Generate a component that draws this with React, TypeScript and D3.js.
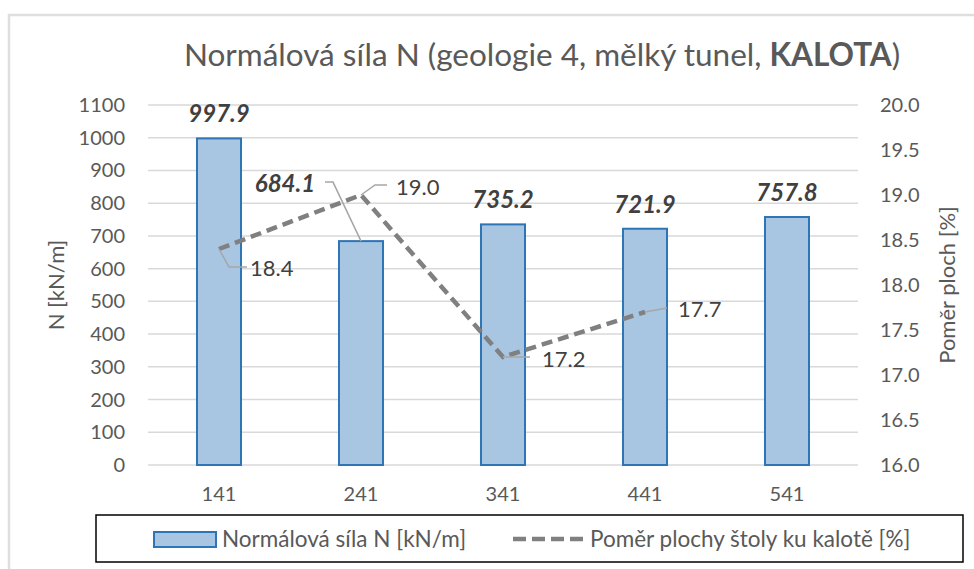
import React from "react";
import * as d3 from "d3";

const categories = ["141", "241", "341", "441", "541"];
const forceValues = [997.9, 684.1, 735.2, 721.9, 757.8];
const ratioCategories = ["141", "241", "341", "441"];
const ratioValues = [18.4, 19.0, 17.2, 17.7];
const leftTicks = [0, 100, 200, 300, 400, 500, 600, 700, 800, 900, 1000, 1100];
const rightTicks = [16.0, 16.5, 17.0, 17.5, 18.0, 18.5, 19.0, 19.5, 20.0];
const title = "Normálová síla N (geologie 4, mělký tunel, ";
const titleBold = "KALOTA";
const legendBar = "Normálová síla N [kN/m]";
const legendLine = "Poměr plochy štoly ku kalotě [%]";

const FONT = "Lato, 'Open Sans', sans-serif";

export default function App() {
  const W = 974, H = 569;
  const left = 148, right = 858, top = 105, bottom = 465;
  const x = d3.scaleBand().domain(categories).range([left, right]).paddingInner(0.69).paddingOuter(0.345);
  const yL = d3.scaleLinear().domain([0, 1100]).range([bottom, top]);
  const yR = d3.scaleLinear().domain([16, 20]).range([bottom, top]);
  const cx = (c: string) => (x(c) as number) + x.bandwidth() / 2;
  const line = d3.line<number>().x((_, i) => cx(ratioCategories[i])).y((d) => yR(d));

  const lineLabels = [
    { dx1: 10, dy1: 18, dx2: 28, dy2: 18, tx: 31, ty: 19 },
    { dx1: 14, dy1: -10, dx2: 26, dy2: -10, tx: 35, ty: -8 },
    { dx1: 5, dy1: 0, dx2: 27, dy2: 0, tx: 39, ty: 2 },
    { dx1: 0, dy1: 0, dx2: 22, dy2: -4, tx: 33, ty: -3 },
  ];

  return (
    <svg width={W} height={H} style={{ position: "absolute", left: 0, top: 0, background: "#fff" }} fontFamily={FONT}>
      <rect x={9} y={15} width={1000} height={600} fill="#fff" stroke="#dedede" strokeWidth={2.5} />
      <text x={542} y={66} textAnchor="middle" fontSize={31.5} fill="#595959">
        {title}
        <tspan fontWeight="bold">{titleBold}</tspan>)
      </text>
      {leftTicks.map((t) => (
        <g key={"g" + t}>
          <line x1={left} x2={right} y1={yL(t)} y2={yL(t)} stroke="#d9d9d9" strokeWidth={1.5} />
          <text x={125} y={yL(t)} dy="0.35em" textAnchor="end" fontSize={20} fill="#595959">{t}</text>
        </g>
      ))}
      {rightTicks.map((t) => (
        <text key={"r" + t} x={880} y={yR(t)} dy="0.35em" textAnchor="start" fontSize={20} fill="#595959">{t.toFixed(1)}</text>
      ))}
      <text transform={`translate(64,285) rotate(-90)`} textAnchor="middle" fontSize={22} fill="#595959">N [kN/m]</text>
      <text transform={`translate(955,285) rotate(-90)`} textAnchor="middle" fontSize={22} fill="#595959">Poměr ploch [%]</text>
      {categories.map((c, i) => (
        <g key={"b" + c}>
          <rect x={x(c)} y={yL(forceValues[i])} width={x.bandwidth()} height={bottom - yL(forceValues[i])} fill="#a8c5e2" stroke="#2e75b6" strokeWidth={2} />
          <text x={cx(c)} y={bottom + 36} textAnchor="middle" fontSize={20} fill="#595959">{c}</text>
        </g>
      ))}
      {categories.map((c, i) =>
        i === 1 ? (
          <g key={"bl" + c}>
            <polyline points={`${cx(c) - 36},${yL(forceValues[i]) - 59} ${cx(c) - 28},${yL(forceValues[i]) - 59} ${cx(c)},${yL(forceValues[i])}`} fill="none" stroke="#a6a6a6" strokeWidth={1.5} />
            <text x={cx(c) - 76} y={yL(forceValues[i]) - 49} textAnchor="middle" fontSize={24} fontWeight="bold" fontStyle="italic" fill="#404040">{forceValues[i].toFixed(1)}</text>
          </g>
        ) : (
          <text key={"bl" + c} x={cx(c)} y={yL(forceValues[i]) - 16} textAnchor="middle" fontSize={24} fontWeight="bold" fontStyle="italic" fill="#404040">{forceValues[i].toFixed(1)}</text>
        )
      )}
      <path d={line(ratioValues) as string} fill="none" stroke="#808080" strokeWidth={4.5} strokeDasharray="11 6" />
      {ratioValues.map((v, i) => {
        const px = cx(ratioCategories[i]);
        const py = yR(v);
        const l = lineLabels[i];
        return (
          <g key={"ll" + i}>
            <polyline points={`${px},${py} ${px + l.dx1},${py + l.dy1} ${px + l.dx2},${py + l.dy2}`} fill="none" stroke="#a6a6a6" strokeWidth={1.5} />
            <text x={px + l.tx} y={py + l.ty} dy="0.35em" fontSize={22} fill="#404040">{v.toFixed(1)}</text>
          </g>
        );
      })}
      <rect x={96} y={515} width={867} height={47} fill="#fff" stroke="#000" strokeWidth={1.5} />
      <rect x={154} y={532} width={62} height={15} fill="#a8c5e2" stroke="#2e75b6" strokeWidth={2} />
      <text x={222} y={539} dy="0.35em" fontSize={22.5} fill="#595959">{legendBar}</text>
      <line x1={513} x2={584} y1={539} y2={539} stroke="#808080" strokeWidth={4.5} strokeDasharray="13 6" />
      <text x={590} y={539} dy="0.35em" fontSize={22.5} fill="#595959">{legendLine}</text>
    </svg>
  );
}
